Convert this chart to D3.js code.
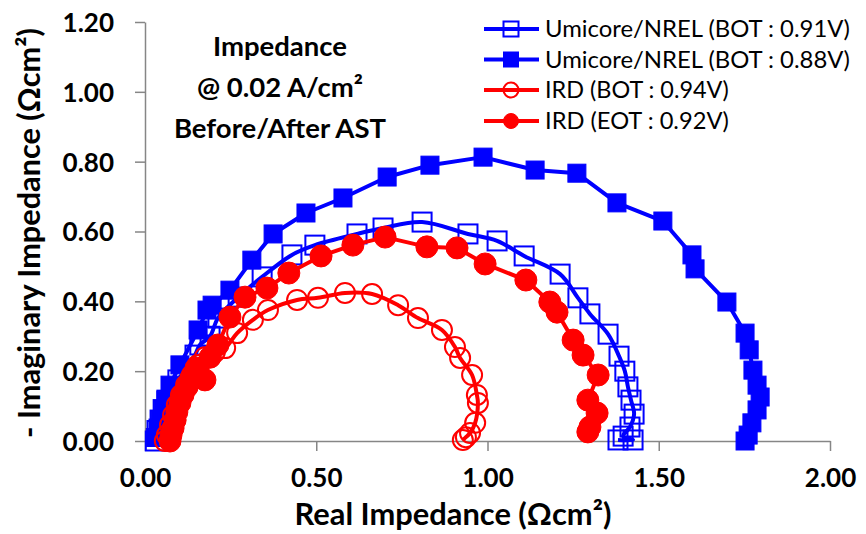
<!DOCTYPE html>
<html><head><meta charset="utf-8">
<script src="https://cdn.jsdelivr.net/npm/d3@7"></script>
<style>body{margin:0;background:#fff}svg{display:block;font-family:Lato,"Open Sans",sans-serif}</style>
</head><body><svg id="c" width="866" height="534"></svg>
<script>
// ---- data (Real Z, -Imag Z in Ohm cm2) ----
const seriesNames = ["Umicore/NREL (BOT : 0.91V)","Umicore/NREL (BOT : 0.88V)","IRD (BOT : 0.94V)","IRD (EOT : 0.92V)"];
const umiBotX = [0.03,0.035,0.044,0.053,0.064,0.079,0.096,0.117,0.146,0.16,0.19,0.213,0.272,0.342,0.429,0.496,0.619,0.695,0.809,0.943,1.028,1.107,1.212,1.264,1.299,1.352,1.384,1.401,1.41,1.419,1.428,1.416,1.396,1.425,1.381];
const umiBotY = [0.0,0.03,0.06,0.09,0.117,0.146,0.175,0.203,0.246,0.275,0.30,0.352,0.412,0.47,0.533,0.561,0.593,0.61,0.627,0.593,0.573,0.53,0.478,0.41,0.364,0.306,0.243,0.2,0.155,0.117,0.077,0.04,0.014,0.003,0.003];
const umiEotX = [0.03,0.038,0.044,0.053,0.061,0.073,0.102,0.155,0.181,0.196,0.248,0.312,0.374,0.470,0.578,0.707,0.832,0.987,1.139,1.261,1.378,1.512,1.597,1.606,1.699,1.752,1.764,1.775,1.787,1.796,1.787,1.772,1.761,1.752];
const umiEotY = [0.01,0.037,0.06,0.089,0.117,0.16,0.218,0.318,0.375,0.389,0.432,0.518,0.593,0.653,0.696,0.756,0.790,0.813,0.776,0.767,0.682,0.630,0.533,0.493,0.398,0.309,0.261,0.203,0.160,0.126,0.089,0.052,0.017,0.0];
const irdBotX = [0.058,0.064,0.073,0.082,0.093,0.105,0.12,0.137,0.155,0.175,0.204,0.234,0.269,0.315,0.359,0.444,0.505,0.584,0.663,0.739,0.797,0.867,0.905,0.92,0.955,0.969,0.972,0.964,0.949,0.937,0.928];
const irdBotY = [0.0,0.017,0.046,0.074,0.103,0.132,0.16,0.189,0.218,0.24,0.255,0.266,0.309,0.347,0.375,0.404,0.41,0.424,0.421,0.389,0.352,0.318,0.269,0.238,0.189,0.132,0.109,0.052,0.023,0.011,0.003];
const irdEotX = [0.073,0.076,0.082,0.088,0.093,0.102,0.111,0.123,0.134,0.149,0.175,0.19,0.213,0.248,0.292,0.356,0.42,0.514,0.607,0.701,0.823,0.911,0.993,1.112,1.182,1.203,1.25,1.279,1.323,1.293,1.32,1.299,1.293];
const irdEotY = [0.0,0.017,0.037,0.06,0.083,0.109,0.132,0.155,0.18,0.209,0.175,0.24,0.275,0.355,0.412,0.438,0.481,0.53,0.561,0.584,0.556,0.553,0.507,0.461,0.398,0.369,0.289,0.246,0.189,0.117,0.08,0.04,0.026];
const xTicks = [0,0.5,1.0,1.5,2.0];
const yTicks = [0,0.2,0.4,0.6,0.8,1.0,1.2];
const noteLines = ["Impedance","@ 0.02 A/cm²","Before/After AST"];

const svg = d3.select("#c");
const x = d3.scaleLinear().domain([0,2]).range([145,830]);
const y = d3.scaleLinear().domain([0,1.2]).range([441,22]);
const BLUE="#0000FF", RED="#FF0000", AX="#868686";

// axes
const gx = svg.append("g").attr("transform","translate(0,441)")
  .call(d3.axisBottom(x).tickValues(xTicks).tickSize(10).tickSizeOuter(0).tickPadding(18).tickFormat(d3.format(".2f")));
const gy = svg.append("g").attr("transform","translate(145,0)")
  .call(d3.axisLeft(y).tickValues(yTicks).tickSize(10).tickSizeOuter(0).tickPadding(21).tickFormat(d3.format(".2f")));
[gx,gy].forEach(g=>{
  g.selectAll("path,line").attr("stroke",AX).attr("stroke-width",1.5);
  g.selectAll("text").attr("fill","#000").style("font-size","26px").style("font-weight","bold").style("font-family","Lato");
});
gy.selectAll("text").attr("dy","0.36em");

function fit(t, w){ const l=t.node().getComputedTextLength(); const fs=parseFloat(t.style("font-size")); t.style("font-size",(fs*w/l)+"px"); }

// axis titles
const xt = svg.append("text").attr("x",453).attr("y",525).attr("text-anchor","middle")
  .style("font-size","26px").style("font-weight","bold").text("Real Impedance (Ωcm²)");
fit(xt,317);
const yt = svg.append("text").attr("transform","translate(40,233) rotate(-90)").attr("text-anchor","middle")
  .style("font-size","26px").style("font-weight","bold").text("- Imaginary Impedance (Ωcm²)");
fit(yt,410);

// note
noteLines.forEach((s,i)=>{
  svg.append("text").attr("x",280).attr("y",56+i*41).attr("text-anchor","middle")
   .style("font-size","27.5px").style("font-weight","bold").text(s);
});

// series
const series = [
  {xs:umiBotX, ys:umiBotY, color:BLUE, shape:"square", filled:false, curve:d3.curveCatmullRom.alpha(0.5)},
  {xs:umiEotX, ys:umiEotY, color:BLUE, shape:"square", filled:true, curve:d3.curveLinear},
  {xs:irdBotX, ys:irdBotY, color:RED, shape:"circle", filled:false, curve:d3.curveCatmullRom.alpha(0.5)},
  {xs:irdEotX, ys:irdEotY, color:RED, shape:"circle", filled:true, curve:d3.curveLinear}
];
function marker(g, cx, cy, s, size){
  if(s.shape==="square"){
    g.append("rect").attr("x",cx-size/2).attr("y",cy-size/2).attr("width",size).attr("height",size)
     .attr("fill",s.filled?s.color:"none").attr("stroke",s.color).attr("stroke-width",s.filled?1:2);
  } else {
    g.append("circle").attr("cx",cx).attr("cy",cy).attr("r",size/2)
     .attr("fill",s.filled?s.color:"none").attr("stroke",s.color).attr("stroke-width",s.filled?1:2);
  }
}
series.forEach(s=>{
  const pts = s.xs.map((v,i)=>[v,s.ys[i]]);
  const g = svg.append("g");
  g.append("path").attr("d",d3.line().x(d=>x(d[0])).y(d=>y(d[1])).curve(s.curve)(pts))
   .attr("fill","none").attr("stroke",s.color).attr("stroke-width",4).attr("stroke-linejoin","round");
  const sz = s.shape==="square" ? (s.filled?18:19) : (s.filled?22:20);
  pts.forEach(d=>marker(g, x(d[0]), y(d[1]), s, sz));
});

// legend
const legY=[29,59.5,90,121];
series.forEach((s,i)=>{
  const g=svg.append("g");
  g.append("line").attr("x1",484).attr("x2",539).attr("y1",legY[i]).attr("y2",legY[i]).attr("stroke",s.color).attr("stroke-width",4);
  marker(g,511,legY[i],s,15);
  const t=g.append("text").attr("x",545).attr("y",legY[i]+8).style("font-size","24px").text(seriesNames[i]);
  fit(t,[305,305,184,184][i]);
});
</script></body></html>
